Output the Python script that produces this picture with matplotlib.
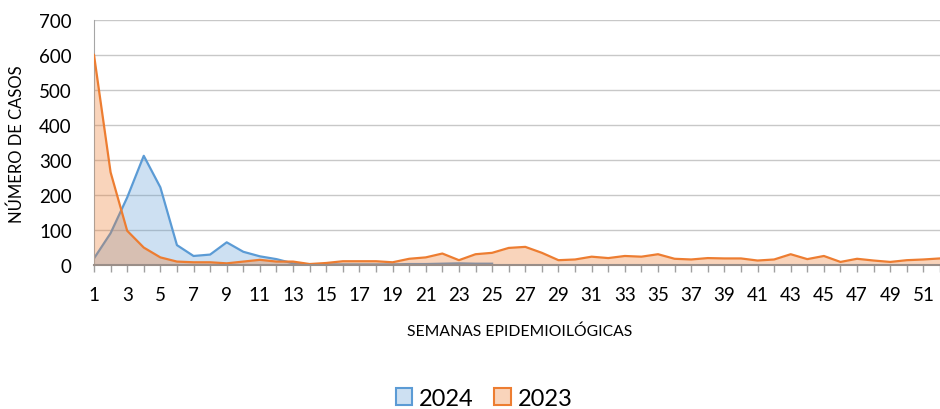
import numpy as np
import matplotlib.pyplot as plt
from matplotlib.patches import Patch

plt.rcParams['font.family'] = ['Lato', 'DejaVu Sans']

# Data
weeks_2023 = list(range(1, 53))
cases_2023 = [600, 265, 98, 50, 22, 10, 8, 8, 5, 10, 15, 10, 10,
              3, 6, 11, 11, 11, 8, 18, 22, 33, 14, 31, 35, 49, 52,
              35, 14, 16, 24, 20, 26, 24, 31, 18, 16, 20, 19, 19, 13,
              16, 31, 17, 26, 9, 18, 13, 9, 14, 16, 19]
weeks_2024 = list(range(1, 26))
cases_2024 = [19, 91, 193, 312, 222, 57, 26, 30, 65, 38, 25, 17, 5,
              2, 2, 2, 2, 2, 2, 3, 3, 4, 5, 4, 4]

blue = '#5B9BD5'
orange = '#ED7D31'

fig = plt.figure(figsize=(9.4, 4.1), dpi=100)
ax = fig.add_axes([0.1, 0.351, 0.9, 0.598])

# 2024 first, 2023 on top (as in the original)
ax.fill_between(weeks_2024, cases_2024, 0, color=blue, alpha=0.3, lw=0, zorder=2)
ax.plot(weeks_2024, cases_2024, color=blue, lw=1.6, zorder=2)
ax.fill_between(weeks_2023, cases_2023, 0, color=orange, alpha=0.33, lw=0, zorder=3)
ax.plot(weeks_2023, cases_2023, color=orange, lw=1.6, zorder=3)

ax.set_xlim(1, 51.4)
ax.set_ylim(0, 700)
ax.set_yticks(range(0, 701, 100))
ax.grid(axis='y', color='#C8C8C8', lw=1, zorder=0)

ax.set_xticks(range(1, 53))
ax.set_xticklabels([str(w) if w % 2 == 1 else '' for w in range(1, 53)])
ax.tick_params(axis='x', length=5, width=1, color='#A0A0A0', pad=10, labelsize=13.5)
ax.tick_params(axis='y', length=0, pad=16, labelsize=13.5)

for s in ['top', 'right']:
    ax.spines[s].set_visible(False)
ax.spines['left'].set_color('#A6A6A6')
ax.spines['bottom'].set_color('#9A8E88')
ax.spines['bottom'].set_linewidth(1.5)
ax.spines['bottom'].set_zorder(5)

fig.text(0.018, 0.649, 'NÚMERO DE CASOS', rotation=90, ha='center', va='center', fontsize=12)
fig.text(0.553, 0.19, 'SEMANAS EPIDEMIOILÓGICAS', ha='center', va='center', fontsize=11.3)

handles = [Patch(facecolor=(0.357, 0.608, 0.835, 0.3), edgecolor=blue, lw=1.5, label='2024'),
           Patch(facecolor=(0.929, 0.49, 0.192, 0.33), edgecolor=orange, lw=1.5, label='2023')]
fig.legend(handles=handles, loc='center', bbox_to_anchor=(0.515, 0.026), ncol=2,
           frameon=False, fontsize=17, handlelength=0.7, handleheight=0.7,
           handletextpad=0.3, columnspacing=0.85, borderpad=0)

fig.savefig('out.png', dpi=100)
